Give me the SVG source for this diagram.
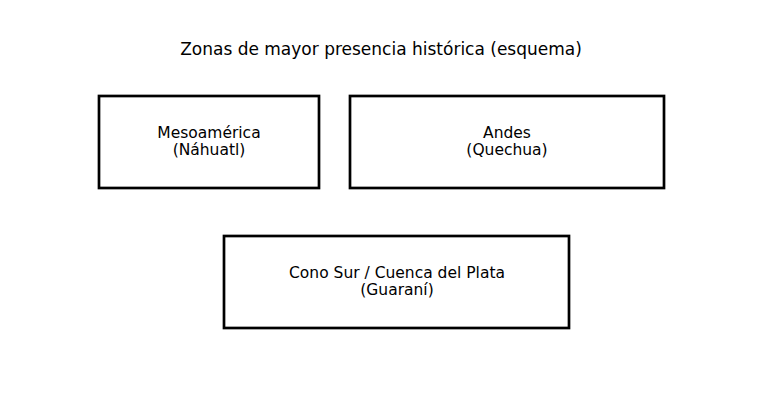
<svg xmlns="http://www.w3.org/2000/svg" width="763" height="414" viewBox="0 0 763 414">
<style>
text{font-family:"DejaVu Sans",sans-serif;fill:#000;text-anchor:middle}
.t{font-size:17px}
.l{font-size:15.5px}
.box{fill:#fff;stroke:#000;stroke-width:2.7}
</style>
<rect width="763" height="414" fill="#fff"/>
<text class="t" x="381" y="55">Zonas de mayor presencia histórica (esquema)</text>
<g id="connectors"></g>
<g id="mesoamerica">
<rect class="box" x="99" y="96" width="220" height="92"/>
<text class="l" x="209" y="138">Mesoamérica</text>
<text class="l" x="209" y="155">(Náhuatl)</text>
</g>
<g id="andes">
<rect class="box" x="350" y="96" width="314" height="92"/>
<text class="l" x="507" y="138">Andes</text>
<text class="l" x="507" y="155">(Quechua)</text>
</g>
<g id="conosur">
<rect class="box" x="224" y="236" width="345" height="92"/>
<text class="l" x="397" y="278">Cono Sur / Cuenca del Plata</text>
<text class="l" x="397" y="295">(Guaraní)</text>
</g>
</svg>
